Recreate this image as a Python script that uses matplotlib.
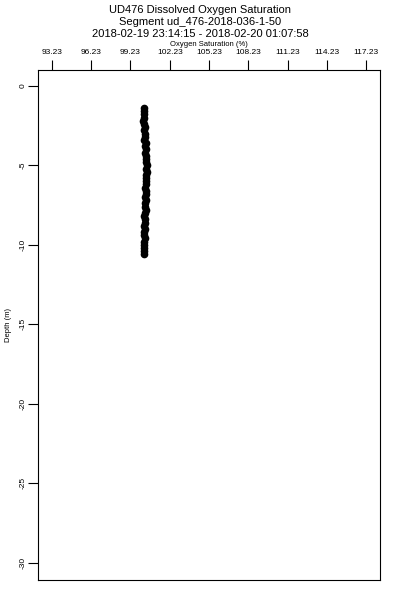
import matplotlib
matplotlib.use('Agg')
import matplotlib.pyplot as plt

# profile readings
depth = [-1.4, -1.6, -1.8, -2.0, -2.2, -2.4, -2.6, -2.8, -3.0, -3.2,
         -3.4, -3.6, -3.8, -4.0, -4.2, -4.4, -4.6, -4.8, -5.0, -5.2,
         -5.4, -5.6, -5.8, -6.0, -6.2, -6.4, -6.6, -6.8, -7.0, -7.2,
         -7.4, -7.6, -7.8, -8.0, -8.2, -8.4, -8.6, -8.8, -9.0, -9.2,
         -9.4, -9.6, -9.8, -10.0, -10.2, -10.4, -10.55]
saturation = [100.28, 100.24, 100.30, 100.26, 100.22, 100.30, 100.34, 100.28, 100.32, 100.36,
              100.30, 100.38, 100.34, 100.40, 100.36, 100.42, 100.44, 100.38, 100.46, 100.40,
              100.50, 100.42, 100.38, 100.44, 100.40, 100.36, 100.42, 100.38, 100.34, 100.40,
              100.36, 100.32, 100.38, 100.34, 100.30, 100.36, 100.32, 100.28, 100.34, 100.30,
              100.26, 100.32, 100.28, 100.30, 100.26, 100.28, 100.26]

xticks = [93.23, 96.23, 99.23, 102.23, 105.23, 108.23, 111.23, 114.23, 117.23]
yticks = [0, -5, -10, -15, -20, -25, -30]

plt.rcParams['font.family'] = ['Liberation Sans', 'DejaVu Sans']

fig = plt.figure(figsize=(4, 6), dpi=100)
ax = fig.add_axes([38/400, 20/600, 342/400, 510/600])

ax.plot(saturation, depth, 'o', color='black', markersize=4.5)

ax.set_xlim(92.16, 118.3)
ax.set_ylim(-31.1, 1.0)
ax.xaxis.tick_top()
ax.xaxis.set_label_position('top')
ax.set_xticks(xticks)
ax.set_xticklabels(['%.2f' % v for v in xticks], fontsize=6)
ax.set_yticks(yticks)
ax.set_yticklabels([str(v) for v in yticks], fontsize=6, rotation=90, va='center')
ax.tick_params(axis='both', length=7, width=0.8, color='black')
ax.tick_params(axis='x', pad=3)
ax.tick_params(axis='y', pad=1)
ax.set_xlabel('Oxygen Saturation (%)', fontsize=5.5, labelpad=2)
ax.set_ylabel('Depth (m)', fontsize=5.5, labelpad=6)
for s in ax.spines.values():
    s.set_linewidth(0.8)

fig.text(0.5, 1 - 10/600, 'UD476 Dissolved Oxygen Saturation', ha='center', va='center', fontsize=8)
fig.text(0.5, 1 - 22/600, 'Segment ud_476-2018-036-1-50', ha='center', va='center', fontsize=8)
fig.text(0.5, 1 - 34/600, '2018-02-19 23:14:15 - 2018-02-20 01:07:58', ha='center', va='center', fontsize=8)

fig.savefig('out.png', dpi=100)
